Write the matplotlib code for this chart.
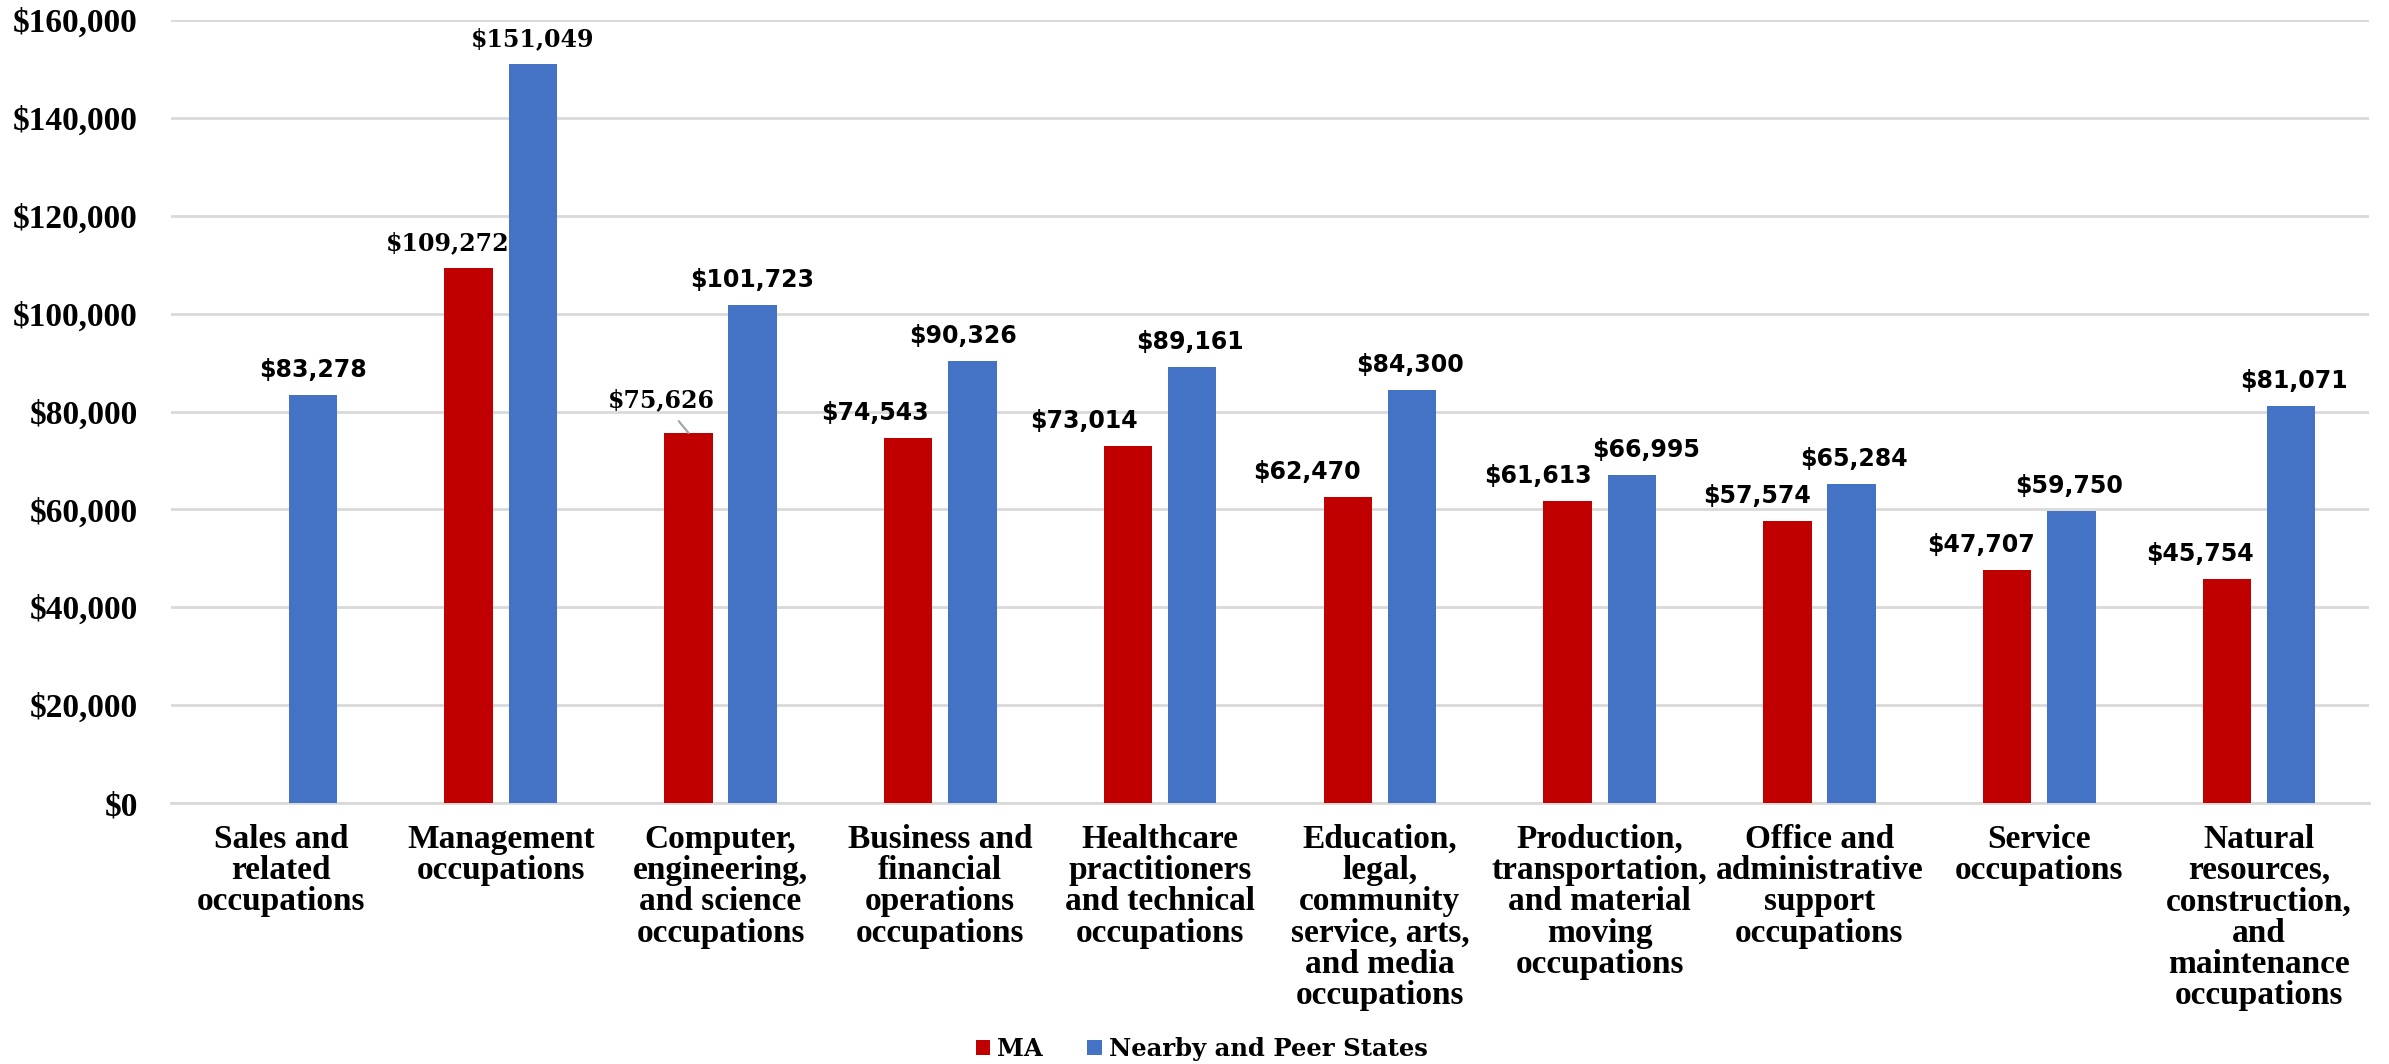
import numpy as np
import matplotlib.pyplot as plt

# data
categories = [
    "Sales and\nrelated\noccupations",
    "Management\noccupations",
    "Computer,\nengineering,\nand science\noccupations",
    "Business and\nfinancial\noperations\noccupations",
    "Healthcare\npractitioners\nand technical\noccupations",
    "Education,\nlegal,\ncommunity\nservice, arts,\nand media\noccupations",
    "Production,\ntransportation,\nand material\nmoving\noccupations",
    "Office and\nadministrative\nsupport\noccupations",
    "Service\noccupations",
    "Natural\nresources,\nconstruction,\nand\nmaintenance\noccupations",
]
ma = [np.nan, 109272, 75626, 74543, 73014, 62470, 61613, 57574, 47707, 45754]
peer = [83278, 151049, 101723, 90326, 89161, 84300, 66995, 65284, 59750, 81071]
yticks = np.arange(0, 160001, 20000)

# label nudges in pixels (x) so red labels sit left of their bars
ma_dx = [0, -21, -27, -33, -44, -41, -30, -30, -26, -27]
peer_dx = [0, 0, 0, -9, -2, -2, 14, 2, -2, 3]

RED = "#C00000"
BLUE = "#4472C4"
SERIF = "Liberation Serif"

fig = plt.figure(figsize=(23.89, 10.64), dpi=100)
ax = fig.add_axes([0.0716, 0.2453, 0.92, 0.7359])

x = np.arange(len(categories))
w = 0.22
off = 0.146
b1 = ax.bar(x - off, ma, w, color=RED, label="MA", zorder=3)
b2 = ax.bar(x + off, peer, w, color=BLUE, label="Nearby and Peer States", zorder=3)

ax.set_xlim(-0.5, len(categories) - 0.5)
ax.set_ylim(0, 160000)
ax.set_yticks(yticks)
ax.set_yticklabels([f"${v:,.0f}" for v in yticks], fontfamily=SERIF,
                   fontweight="bold", fontsize=24)
ax.set_xticks(x)
ax.set_xticklabels(categories, fontfamily=SERIF, fontweight="bold",
                   fontsize=24, linespacing=1.01, va="top")
ax.tick_params(axis="both", length=0)
ax.tick_params(axis="y", pad=24)
ax.tick_params(axis="x", pad=15)
ax.grid(axis="y", color="#d9d9d9", linewidth=2, zorder=0)
for s in ["top", "right", "left"]:
    ax.spines[s].set_visible(False)
ax.spines["bottom"].set_color("#d9d9d9")
ax.spines["bottom"].set_linewidth(2)

serif_labels = {(0, 1), (1, 1), (0, 2)}
for series, (vals, dxs) in enumerate([(ma, ma_dx), (peer, peer_dx)]):
    for i, v in enumerate(vals):
        if np.isnan(v):
            continue
        xi = x[i] - off if series == 0 else x[i] + off
        fam = "DejaVu Serif" if (series, i) in serif_labels else "DejaVu Sans"
        if series == 0 and i == 2:
            ax.annotate(f"${v:,.0f}", xy=(xi, v), xytext=(dxs[i], 33),
                        textcoords="offset pixels", ha="center", va="center",
                        fontsize=17, fontweight="bold", fontfamily=fam,
                        arrowprops=dict(arrowstyle="-", color="#a6a6a6", lw=1.6,
                                        shrinkA=6, shrinkB=0))
        else:
            ax.annotate(f"${v:,.0f}", xy=(xi, v), xytext=(dxs[i], 25),
                        textcoords="offset pixels", ha="center", va="center",
                        fontsize=17, fontweight="bold", fontfamily=fam)

fig.legend(handles=[b1, b2], loc="center", bbox_to_anchor=(0.503, 0.014),
           ncol=2, frameon=False, prop=dict(family="DejaVu Serif", weight="bold", size=17.5),
           handlelength=0.6, handleheight=0.6, handletextpad=0.3, columnspacing=1.8)

fig.savefig("out.png", dpi=100)
